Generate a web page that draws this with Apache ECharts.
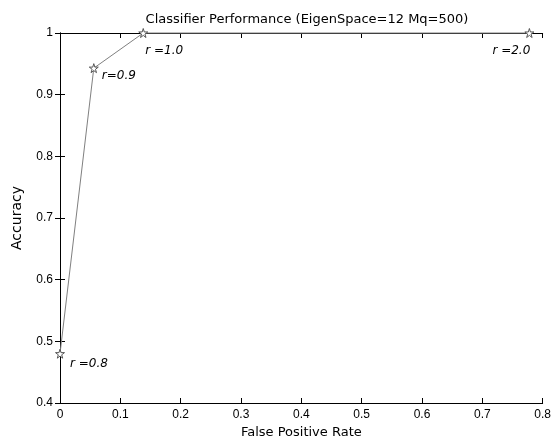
<!DOCTYPE html>
<html>
<head>
<meta charset="utf-8">
<script src="https://cdn.jsdelivr.net/npm/echarts@6/dist/echarts.min.js"></script>
<style>
  html, body { margin: 0; padding: 0; background: #fff; }
  #chart { width: 554px; height: 444px; }
</style>
</head>
<body>
<div id="chart"></div>
<script>
// false positive rate vs accuracy for each r
const fpr = [0, 0.056, 0.138, 0.778]
const accuracy = [0.48, 0.943, 1.0, 1.0]
const pointLabels = ['r =0.8', 'r=0.9', 'r =1.0', 'r =2.0']
const xTicks = { min: 0, max: 0.8, interval: 0.1 }
const yTicks = { min: 0.4, max: 1, interval: 0.1 }

const chart = echarts.init(document.getElementById('chart'))

// label offsets next to each star
const labelOffsets = [[10, 10], [8, 8], [2, 18], [-37, 18]]

const starPath = 'path://M50,0 L61,35 L98,35 L68,57 L79,91 L50,70 L21,91 L32,57 L2,35 L39,35 Z'
const font = 'DejaVu Sans, Arial'

const data = fpr.map((x, i) => ({
  value: [x, accuracy[i]],
  label: {
    show: true,
    formatter: pointLabels[i],
    position: 'inside',
    align: 'left',
    offset: labelOffsets[i]
  }
}))

const axisCommon = {
  type: 'value',
  axisLine: { show: true, lineStyle: { color: '#000', width: 1 } },
  axisTick: { show: true, inside: true, length: 5, lineStyle: { color: '#000' } },
  splitLine: { show: false },
  axisLabel: { color: '#000', fontFamily: 'Arial, Liberation Sans', fontSize: 12 }
}

const option = {
  animation: false,
  backgroundColor: '#fff',
  title: {
    text: 'Classifier Performance (EigenSpace=12 Mq=500)',
    left: 302,
    top: 8,
    textAlign: 'center',
    textStyle: { fontFamily: font, fontSize: 13, fontWeight: 'normal', color: '#000' }
  },
  grid: { left: 60, right: 7, top: 33, bottom: 39 },
  xAxis: [
    Object.assign({}, axisCommon, {
      min: xTicks.min, max: xTicks.max, interval: xTicks.interval,
      position: 'bottom',
      name: 'False Positive Rate',
      nameLocation: 'middle',
      nameGap: 23,
      nameTextStyle: { fontFamily: font, fontSize: 13, color: '#000' },
      axisLabel: Object.assign({}, axisCommon.axisLabel, { margin: 6 })
    }),
    Object.assign({}, axisCommon, {
      min: xTicks.min, max: xTicks.max, interval: xTicks.interval,
      position: 'top',
      axisLabel: { show: false }
    })
  ],
  yAxis: [
    Object.assign({}, axisCommon, {
      min: yTicks.min, max: yTicks.max, interval: yTicks.interval,
      position: 'left',
      name: 'Accuracy',
      nameLocation: 'middle',
      nameGap: 36,
      nameTextStyle: { fontFamily: font, fontSize: 14, color: '#000' },
      axisLabel: Object.assign({}, axisCommon.axisLabel, { margin: 7 })
    }),
    Object.assign({}, axisCommon, {
      min: yTicks.min, max: yTicks.max, interval: yTicks.interval,
      position: 'right',
      axisLabel: { show: false }
    })
  ],
  series: [
    {
      type: 'line',
      data: data,
      symbol: starPath,
      symbolSize: 9,
      lineStyle: { color: '#808080', width: 1 },
      itemStyle: { color: '#fff', borderColor: '#555', borderWidth: 1 },
      label: {
        color: '#000',
        fontFamily: font,
        fontStyle: 'italic',
        fontSize: 12
      },
      clip: false,
      z: 3
    }
  ]
}

chart.setOption(option)
</script>
</body>
</html>
